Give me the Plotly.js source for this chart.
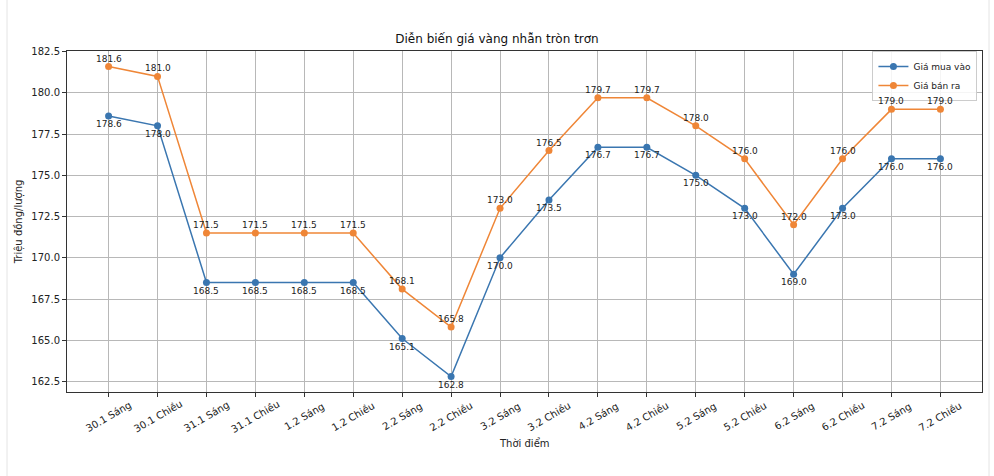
<!DOCTYPE html>
<html><head><meta charset="utf-8">
<script src="https://cdn.plot.ly/plotly-3.0.1.min.js"></script>
<style>body{margin:0;background:#fff}#c{width:994px;height:476px}</style>
</head><body><div id="c"></div>
<script>
const categories = ["30.1 Sáng","30.1 Chiều","31.1 Sáng","31.1 Chiều","1.2 Sáng","1.2 Chiều","2.2 Sáng","2.2 Chiều","3.2 Sáng","3.2 Chiều","4.2 Sáng","4.2 Chiều","5.2 Sáng","5.2 Chiều","6.2 Sáng","6.2 Chiều","7.2 Sáng","7.2 Chiều"];
const buyPrices = [178.6,178.0,168.5,168.5,168.5,168.5,165.1,162.8,170.0,173.5,176.7,176.7,175.0,173.0,169.0,173.0,176.0,176.0];
const sellPrices = [181.6,181.0,171.5,171.5,171.5,171.5,168.1,165.8,173.0,176.5,179.7,179.7,178.0,176.0,172.0,176.0,179.0,179.0];
const yTicks = [162.5,165.0,167.5,170.0,172.5,175.0,177.5,180.0,182.5];

const idx = categories.map((_, i) => i);
const font = "DejaVu Sans, sans-serif";
const blue = "#3a76b0", orange = "#ef8637";

const traces = [
  {x: idx, y: buyPrices, name: "Giá mua vào", mode: "lines+markers",
   line: {color: blue, width: 1.5}, marker: {color: blue, size: 7}, cliponaxis: false},
  {x: idx, y: sellPrices, name: "Giá bán ra", mode: "lines+markers",
   line: {color: orange, width: 1.5}, marker: {color: orange, size: 7}, cliponaxis: false}
];

const annotations = [];
idx.forEach(i => {
  annotations.push({x: i, y: buyPrices[i], xref: "x", yref: "y", text: buyPrices[i].toFixed(1),
    showarrow: false, yshift: -8, font: {family: font, size: 9, color: "#222"}});
  annotations.push({x: i, y: sellPrices[i], xref: "x", yref: "y", text: sellPrices[i].toFixed(1),
    showarrow: false, yshift: 8, font: {family: font, size: 9, color: "#222"}});
  annotations.push({x: i, y: 0, xref: "x", yref: "paper", text: categories[i], textangle: -30,
    showarrow: false, yanchor: "middle", xanchor: "center", yshift: -24,
    font: {family: font, size: 10, color: "#222"}});
});
annotations.push({x: 0.5, y: 0, xref: "paper", yref: "paper", text: "Thời điểm", showarrow: false,
  yanchor: "middle", xanchor: "center", yshift: -51, font: {family: font, size: 10, color: "#222"}});

const layout = {
  width: 994, height: 476,
  margin: {l: 67, r: 12, t: 51, b: 84},
  paper_bgcolor: "#fff", plot_bgcolor: "#fff",
  font: {family: font, size: 10, color: "#222"},
  title: {text: "Diễn biến giá vàng nhẫn tròn trơn", font: {family: font, size: 12, color: "#111"},
          x: 0.5, xanchor: "center", y: 1 - 39/476, yanchor: "middle"},
  xaxis: {range: [-0.85, 17.85], tickvals: idx, showticklabels: false,
          showgrid: true, gridcolor: "#b8b8b8", gridwidth: 1, zeroline: false,
          showline: true, linecolor: "#333", linewidth: 1, mirror: true,
          ticks: "outside", ticklen: 4, tickcolor: "#333"},
  yaxis: {range: [161.86, 182.54], tickvals: yTicks, ticktext: yTicks.map(v => v.toFixed(1)),
          showgrid: true, gridcolor: "#b8b8b8", gridwidth: 1, zeroline: false,
          showline: true, linecolor: "#333", linewidth: 1, mirror: true,
          ticks: "outside", ticklen: 4, tickcolor: "#333",
          tickfont: {family: font, size: 10, color: "#222"},
          title: {text: "Triệu đồng/lượng", font: {family: font, size: 10, color: "#222"}, standoff: 6}},
  legend: {x: 0.995, y: 1.0, xanchor: "right", yanchor: "top",
           bgcolor: "rgba(255,255,255,0.85)", bordercolor: "#ccc", borderwidth: 1,
           font: {family: font, size: 9, color: "#222"}, tracegroupgap: 0},
  showlegend: true,
  annotations: annotations,
  shapes: [
    {type: "line", xref: "paper", yref: "paper", x0: -60/915, x1: -60/915, y0: -84/341, y1: 1 + 51/341, line: {color: "#e4e4e4", width: 1}},
    {type: "line", xref: "paper", yref: "paper", x0: 1 + 7/915, x1: 1 + 7/915, y0: -84/341, y1: 1 + 51/341, line: {color: "#e4e4e4", width: 1}}
  ]
};
Plotly.newPlot("c", traces, layout, {displayModeBar: false, staticPlot: true});
</script></body></html>
